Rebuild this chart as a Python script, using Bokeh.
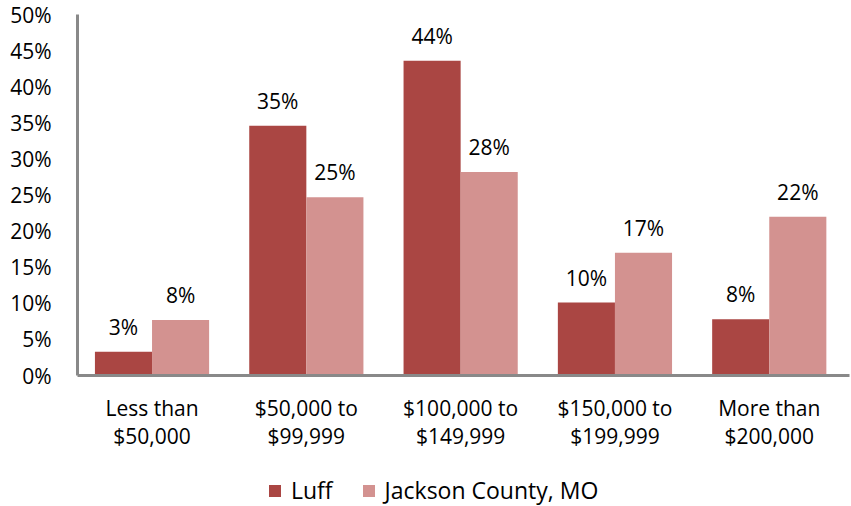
from bokeh.plotting import figure
from bokeh.layouts import column
from bokeh.models import FixedTicker, Legend, LegendItem, ColumnDataSource
from bokeh.embed import file_html
from bokeh.resources import INLINE
from bokeh.core.properties import value

categories = ["Less than\n$50,000", "$50,000 to\n$99,999", "$100,000 to\n$149,999",
              "$150,000 to\n$199,999", "More than\n$200,000"]
luff = [3.3, 34.6, 43.6, 10.1, 7.8]
jackson = [7.7, 24.7, 28.2, 17.0, 22.0]
series_names = ["Luff", "Jackson County, MO"]
y_ticks = [0, 5, 10, 15, 20, 25, 30, 35, 40, 45, 50]

FONT = "Open Sans"
FS = "21px"
C1 = "#AA4643"
C2 = "#D39290"
AXIS = "#898989"

x = list(range(1, len(categories) + 1))
bw = 0.37

p = figure(frame_width=772, frame_height=361, min_border_left=77, min_border_right=2,
           min_border_top=14, min_border_bottom=99,
           x_range=(0.517, 5.52), y_range=(0, 50),
           output_backend="svg", toolbar_location=None)
p.outline_line_color = None
p.xgrid.visible = False
p.ygrid.visible = False

def lab(v):
    return f"{int(v + 0.5)}%"

src1 = ColumnDataSource(dict(x=[v - bw / 2 for v in x], top=luff, lab=[lab(v) for v in luff]))
src2 = ColumnDataSource(dict(x=[v + bw / 2 for v in x], top=jackson, lab=[lab(v) for v in jackson]))
p.vbar(x="x", top="top", bottom=0, width=bw, source=src1, fill_color=C1, line_color=None)
p.vbar(x="x", top="top", bottom=0, width=bw, source=src2, fill_color=C2, line_color=None)

for s in (src1, src2):
    p.text(x="x", y="top", text="lab", source=s, text_align="center",
           text_baseline="alphabetic", y_offset=-25, text_font=value(FONT),
           text_font_size=FS, text_color="#000000")

# axes
p.yaxis.ticker = FixedTicker(ticks=y_ticks)
p.yaxis.major_label_overrides = {t: f"{t}%" for t in y_ticks}
p.xaxis.ticker = FixedTicker(ticks=x)
p.xaxis.major_label_overrides = {i: c for i, c in zip(x, categories)}
for ax in (p.xaxis, p.yaxis):
    ax.axis_line_color = AXIS
    ax.axis_line_width = 3
    ax.major_tick_line_color = None
    ax.minor_tick_line_color = None
    ax.major_tick_out = 0
    ax.major_tick_in = 0
    ax.major_label_text_font = FONT
    ax.major_label_text_font_size = FS
    ax.major_label_text_color = "#000000"
p.yaxis.major_label_standoff = 26
p.xaxis.major_label_standoff = 18
p.xaxis.major_label_text_line_height = 1.0

# legend strip (separate figure, so the legend sits below the axis labels)
lp = figure(frame_width=851, frame_height=32, min_border=0,
            x_range=(0, 1), y_range=(0, 1), x_axis_location=None, y_axis_location=None,
            output_backend="svg", toolbar_location=None)
lp.outline_line_color = None
lp.xgrid.visible = False
lp.ygrid.visible = False
# legend-key renderers: kept outside the visible range, only their keys are shown
lr1 = lp.vbar(x=[-5], top=[-4], bottom=-5, width=0.1, fill_color=C1, line_color=None)
lr2 = lp.vbar(x=[-5], top=[-4], bottom=-5, width=0.1, fill_color=C2, line_color=None)
legend = Legend(items=[LegendItem(label=series_names[0], renderers=[lr1]),
                       LegendItem(label=series_names[1], renderers=[lr2])],
                location=(267, 0), orientation="horizontal",
                glyph_width=15, glyph_height=15, label_standoff=9, spacing=28,
                padding=0, margin=0, border_line_color=None, background_fill_alpha=0,
                label_text_font=FONT, label_text_font_size="23px", label_text_color="#000000")
lp.add_layout(legend, "center")

open("out.html", "w").write(file_html(column(p, lp, spacing=0), INLINE))
